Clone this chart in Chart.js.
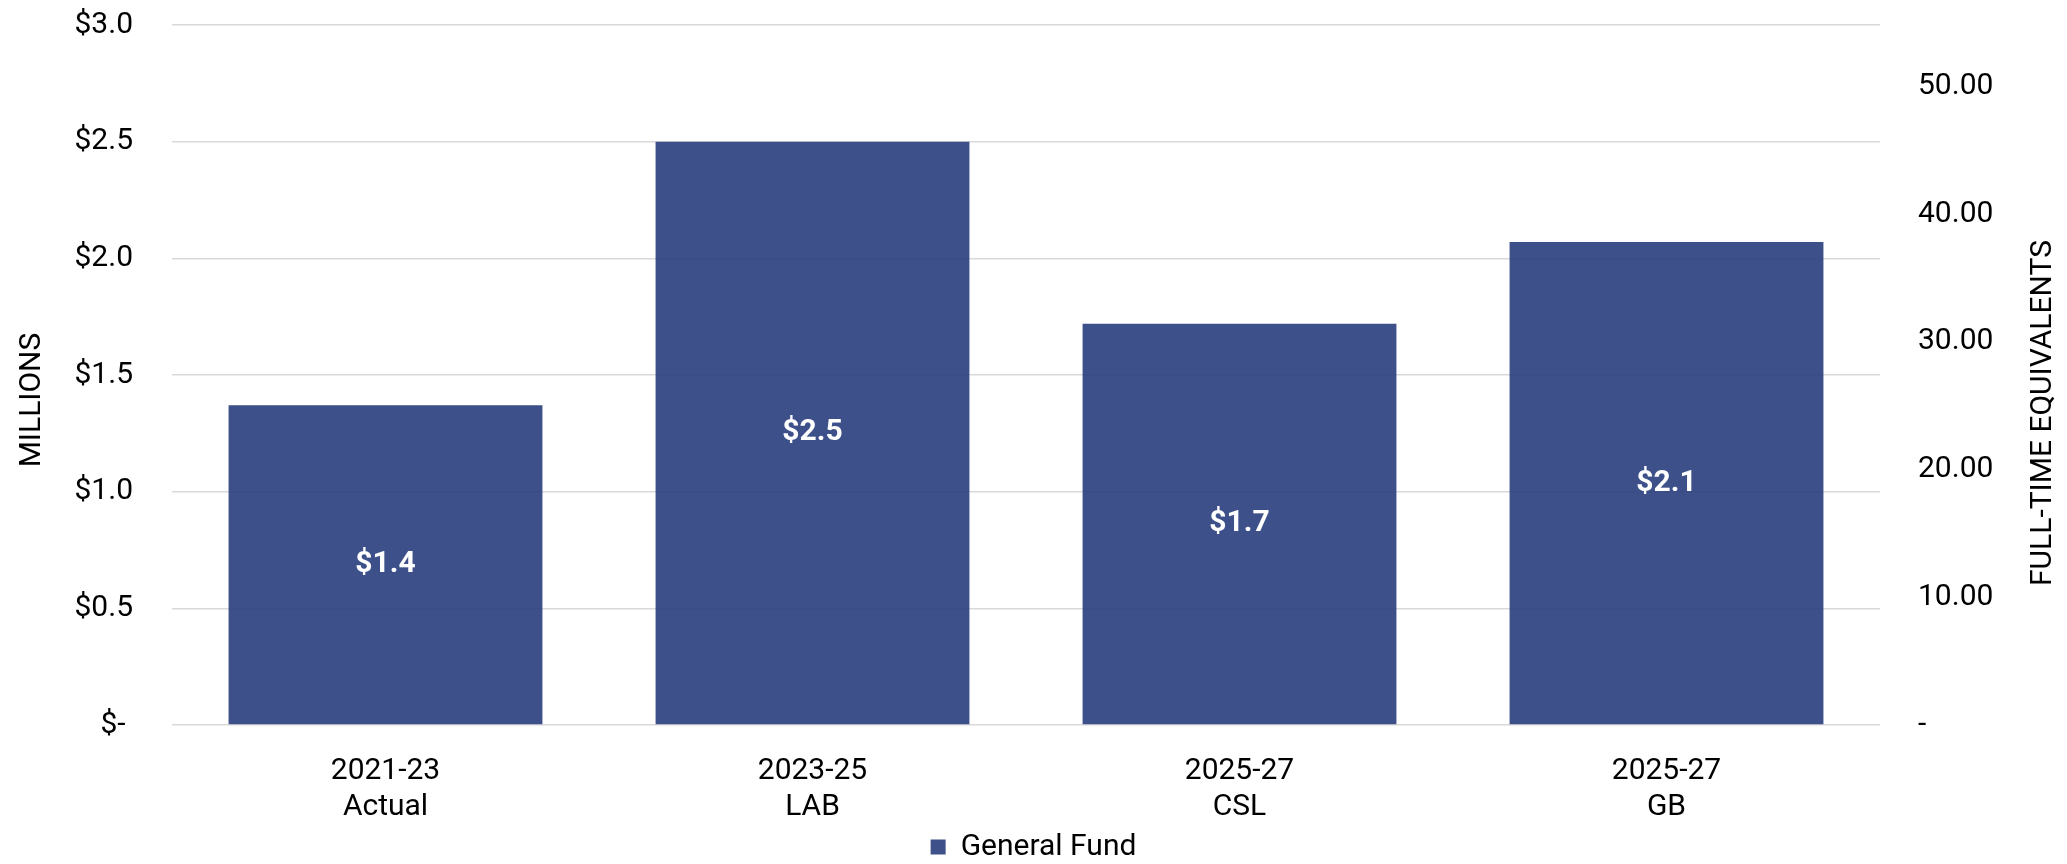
<!DOCTYPE html>
<html>
<head>
<meta charset="utf-8">
<script src="https://cdn.jsdelivr.net/npm/chart.js@4/dist/chart.umd.min.js"></script>
<style>
  html, body { margin: 0; padding: 0; background: #ffffff; }
  #wrap { width: 2067px; height: 864px; position: relative; }
</style>
</head>
<body>
<div id="wrap"><canvas id="c"></canvas></div>
<script>
const categories = [['2021-23', 'Actual'], ['2023-25', 'LAB'], ['2025-27', 'CSL'], ['2025-27', 'GB']];
const seriesName = 'General Fund';
const generalFund = [1.37, 2.50, 1.72, 2.07];
const leftAxisTitle = 'MILLIONS';
const rightAxisTitle = 'FULL-TIME EQUIVALENTS';
const leftMin = 0, leftMax = 3.0, leftStep = 0.5;
const rightMin = 0, rightMax = 54.8, rightStep = 10;

const FONT = 'Roboto';
const TXT = '#000000';

const barLabels = {
  id: 'barLabels',
  afterDatasetsDraw(chart) {
    const ctx = chart.ctx;
    const meta = chart.getDatasetMeta(0);
    const data = chart.data.datasets[0].data;
    ctx.save();
    ctx.font = 'bold 30px ' + FONT;
    ctx.fillStyle = '#ffffff';
    ctx.textAlign = 'center';
    ctx.textBaseline = 'middle';
    meta.data.forEach((el, i) => {
      const y = (el.y + el.base) / 2;
      ctx.fillText('$' + data[i].toFixed(1), el.x, y);
    });
    ctx.restore();
  }
};

const axisTitles = {
  id: 'axisTitles',
  afterDraw(chart) {
    const ctx = chart.ctx;
    const area = chart.chartArea;
    const mid = (area.top + area.bottom) / 2;
    ctx.save();
    ctx.font = '30px ' + FONT;
    ctx.fillStyle = TXT;
    ctx.textAlign = 'center';
    ctx.textBaseline = 'middle';
    // left title
    ctx.save();
    ctx.translate(chart.scales.y.left + 32, mid + 25);
    ctx.rotate(-Math.PI / 2);
    ctx.fillText(leftAxisTitle, 0, 0);
    ctx.restore();
    // right title (reads bottom to top)
    ctx.save();
    ctx.translate(chart.scales.y2.right - 24, mid + 38);
    ctx.rotate(-Math.PI / 2);
    ctx.fillText(rightAxisTitle, 0, 0);
    ctx.restore();
    ctx.restore();
  }
};

new Chart(document.getElementById('c'), {
  type: 'bar',
  data: {
    labels: categories,
    datasets: [{
      label: seriesName,
      data: generalFund,
      backgroundColor: 'rgba(44,65,128,0.92)',
      borderWidth: 0,
      barPercentage: 0.735,
      categoryPercentage: 1.0,
      yAxisID: 'y'
    }]
  },
  options: {
    responsive: true,
    maintainAspectRatio: false,
    devicePixelRatio: 1,
    animation: false,
    layout: { padding: { top: 25, bottom: -8, left: 0, right: 0 } },
    plugins: {
      tooltip: { enabled: false },
      legend: {
        display: true,
        position: 'bottom',
        labels: {
          font: { family: FONT, size: 30 },
          color: TXT,
          boxWidth: 15,
          boxHeight: 15,
          padding: 4
        }
      }
    },
    scales: {
      x: {
        grid: { display: false, drawTicks: false },
        border: { display: false },
        ticks: {
          font: { family: FONT, size: 30, lineHeight: 1.2 },
          color: TXT,
          padding: 28,
          maxRotation: 0,
          autoSkip: false
        },
        afterFit(scale) { scale.height = 103; }
      },
      y: {
        position: 'left',
        min: leftMin,
        max: leftMax,
        grid: { color: '#d9d9d9', lineWidth: 1.5, drawTicks: true, tickLength: 39, tickColor: 'rgba(0,0,0,0)' },
        border: { display: false },
        ticks: {
          stepSize: leftStep,
          font: { family: FONT, size: 30 },
          color: TXT,
          padding: 0,
          callback: (v) => v === 0 ? '$- ' : '$' + Number(v).toFixed(1)
        },
        title: { display: false },
        afterFit(scale) { scale.width = 172; }
      },
      y2: {
        position: 'right',
        min: rightMin,
        max: rightMax,
        grid: { drawOnChartArea: false, drawTicks: true, tickLength: 38, tickColor: 'rgba(0,0,0,0)' },
        border: { display: false },
        ticks: {
          stepSize: rightStep,
          font: { family: FONT, size: 30 },
          color: TXT,
          padding: 0,
          callback: (v) => v === 0 ? '-' : Number(v).toFixed(2)
        },
        afterBuildTicks(scale) {
          scale.ticks = scale.ticks.filter(t => Math.abs(t.value % rightStep) < 1e-9);
        },
        title: { display: false },
        afterFit(scale) { scale.width = 187; }
      }
    }
  },
  plugins: [barLabels, axisTitles]
});
</script>
</body>
</html>
